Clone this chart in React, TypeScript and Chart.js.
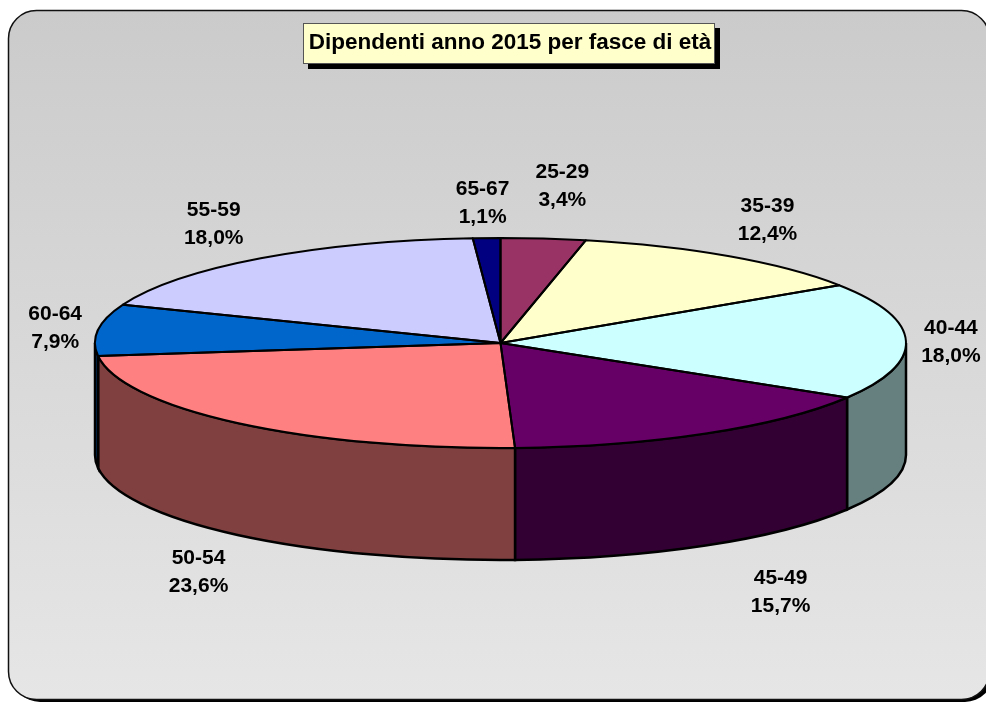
import React, { useEffect, useRef } from "react";
import { Chart, registerables } from "chart.js";

Chart.register(...registerables);

const categories = ["25-29", "35-39", "40-44", "45-49", "50-54", "60-64", "55-59", "65-67"];
const shares = [3.37, 12.36, 17.96, 15.74, 23.6, 7.92, 17.96, 1.09];
const topColors = ["#993366", "#FFFFCC", "#CCFFFF", "#660066", "#FF8080", "#0066CC", "#CCCCFF", "#000080"];
const wallColors = ["#4D1A33", "#808066", "#668080", "#330033", "#804040", "#003366", "#666680", "#000040"];
const titleText = "Dipendenti anno 2015 per fasce di età";

// Label offsets from the rim point at each slice's middle angle
const labelDx = [19, 38, 45, 75, -39, -43, -47, -4];
const labelDy = [-52, -36, 1, 159, 149, -2, -34, -35];

const FONT = '"Liberation Sans", Arial, sans-serif';
const PIE = { cx: 500.5, cy: 343, rx: 405.5, ry: 105, depth: 112 };

const roundRect = (ctx: CanvasRenderingContext2D, x: number, y: number, w: number, h: number, r: number) => {
  ctx.beginPath();
  ctx.roundRect(x, y, w, h, r);
};

const threeD = {
  id: "threeD",
  beforeDraw(chart: any) {
    const { ctx } = chart;
    ctx.save();
    ctx.fillStyle = "#fff";
    ctx.fillRect(0, 0, 986, 702);
    ctx.fillStyle = "#000";
    roundRect(ctx, 12, 14, 981, 688, 28);
    ctx.fill();
    const g = ctx.createLinearGradient(0, 11, 0, 699);
    g.addColorStop(0, "#CBCBCB");
    g.addColorStop(1, "#E6E6E6");
    ctx.fillStyle = g;
    roundRect(ctx, 8.5, 10.5, 981, 689, 28);
    ctx.fill();
    ctx.strokeStyle = "#111";
    ctx.lineWidth = 1.5;
    ctx.stroke();
    // title box
    ctx.fillStyle = "#000";
    ctx.fillRect(308, 28, 412, 41);
    ctx.fillStyle = "#FFFFCC";
    ctx.fillRect(303.5, 23.5, 411, 40);
    ctx.strokeStyle = "#555";
    ctx.lineWidth = 1;
    ctx.strokeRect(303.5, 23.5, 411, 40);
    ctx.restore();
  },
  beforeDatasetsDraw(chart: any) {
    const { ctx } = chart;
    const { cx, cy, rx, ry, depth } = PIE;
    const arcs = chart.getDatasetMeta(0).data;
    ctx.save();
    ctx.lineWidth = 2.5;
    ctx.strokeStyle = "#000";
    arcs.forEach((a: any, i: number) => {
      for (const shift of [0, Math.PI * 2]) {
        const s = Math.max(a.startAngle, shift);
        const e = Math.min(a.endAngle, shift + Math.PI);
        if (e <= s) continue;
        ctx.beginPath();
        ctx.ellipse(cx, cy, rx, ry, 0, s, e);
        ctx.ellipse(cx, cy + depth, rx, ry, 0, e, s, true);
        ctx.closePath();
        ctx.fillStyle = wallColors[i];
        ctx.fill();
        ctx.stroke();
      }
    });
    ctx.restore();
    const a0 = arcs[0];
    ctx.save();
    ctx.translate(cx, cy);
    ctx.scale(rx / a0.outerRadius, ry / a0.outerRadius);
    ctx.translate(-a0.x, -a0.y);
  },
  afterDatasetsDraw(chart: any) {
    const { ctx } = chart;
    ctx.restore();
    const { cx, cy, rx, ry } = PIE;
    const arcs = chart.getDatasetMeta(0).data;
    ctx.save();
    ctx.lineWidth = 2;
    ctx.strokeStyle = "#000";
    ctx.lineJoin = "round";
    arcs.forEach((a: any) => {
      ctx.beginPath();
      ctx.moveTo(cx, cy);
      ctx.ellipse(cx, cy, rx, ry, 0, a.startAngle, a.endAngle);
      ctx.closePath();
      ctx.stroke();
    });
    ctx.fillStyle = "#000";
    ctx.font = `bold 21px ${FONT}`;
    ctx.textAlign = "center";
    ctx.textBaseline = "middle";
    arcs.forEach((a: any, i: number) => {
      const mid = (a.startAngle + a.endAngle) / 2;
      const x = cx + rx * Math.cos(mid) + labelDx[i];
      const y = cy + ry * Math.sin(mid) + labelDy[i];
      ctx.fillText(categories[i], x, y - 14);
      ctx.fillText(shares[i].toFixed(1).replace(".", ",") + "%", x, y + 14);
    });
    ctx.restore();
  },
};

export default function App() {
  const ref = useRef<HTMLCanvasElement>(null);
  useEffect(() => {
    document.body.style.margin = "0";
    const chart = new Chart(ref.current!, {
      type: "pie",
      data: {
        labels: categories,
        datasets: [{ data: shares, backgroundColor: topColors, borderWidth: 0, clip: false } as any],
      },
      options: {
        responsive: false,
        animation: false,
        layout: { padding: { left: 34 } },
        plugins: {
          legend: { display: false },
          tooltip: { enabled: false },
          title: {
            display: true,
            text: titleText,
            fullSize: false,
            color: "#000",
            font: { family: FONT, size: 22.5, weight: "bold" },
            padding: { top: 29, bottom: 8 },
          },
        },
      } as any,
      plugins: [threeD],
    });
    return () => chart.destroy();
  }, []);
  return <canvas ref={ref} width={986} height={702} style={{ display: "block" }} />;
}
